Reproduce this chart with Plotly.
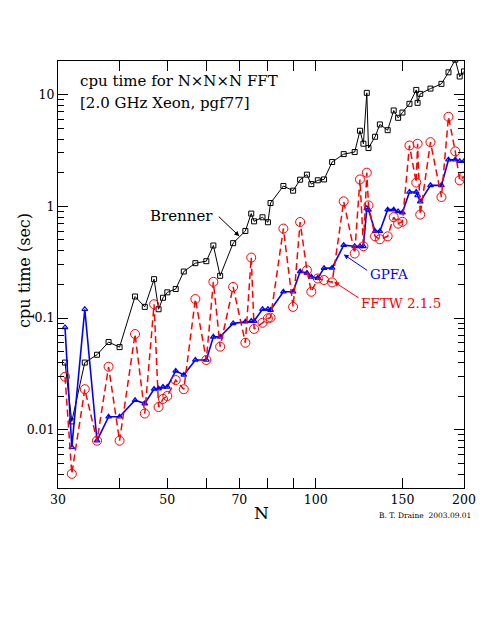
import math
import plotly.graph_objects as go

# ---- data ----
N = [31, 32, 34, 36, 38, 40, 43, 45, 47, 48, 49, 50, 52, 54, 57, 60, 62, 64, 68, 72,
     74, 75, 78, 80, 81, 86, 90, 93, 96, 98, 101, 104, 108, 114, 120, 123, 125, 127, 128, 132,
     135, 140, 144, 147, 150, 155, 160, 161, 163, 171, 180, 186, 192, 196, 200]

brenner = [0.040, 0.0119, 0.040, 0.047, 0.061, 0.055, 0.156, 0.126, 0.223, 0.120,
           0.152, 0.170, 0.182, 0.261, 0.310, 0.323, 0.446, 0.239, 0.468, 0.602,
           0.861, 0.734, 0.798, 0.72, 1.07, 1.52, 1.38, 1.73, 1.92, 1.58,
           1.71, 1.74, 2.49, 2.93, 3.06, 4.74, 3.63, 10.35, 3.32, 4.19,
           5.40, 4.80, 7.2, 6.19, 6.9, 8.26, 11.0, 8.43, 10.14, 11.3,
           12.46, 15.8, 20.5, 14.5, 16.1]

gpfa = [0.0826, 0.0070, 0.120, 0.0080, 0.0131, 0.0131, 0.0184, 0.0172, 0.0232, 0.0234,
        0.0242, 0.0242, 0.0337, 0.031, 0.0422, 0.0422, 0.068, 0.068, 0.0897, 0.0927,
        0.094, 0.094, 0.120, 0.120, 0.118, 0.172, 0.172, 0.261, 0.253, 0.234,
        0.228, 0.280, 0.281, 0.449, 0.439, 0.439, 0.439, 0.96, 0.93, 0.598,
        0.598, 0.934, 0.934, 0.90, 0.879, 1.343, 1.343, 1.25, 1.10, 1.54,
        1.54, 2.61, 2.61, 2.53, 2.53]

fftw = [0.0299, 0.00404, 0.0231, 0.0080, 0.0367, 0.0080, 0.072, 0.014, 0.133, 0.016,
        0.0189, 0.0201, 0.0279, 0.0231, 0.148, 0.0422, 0.211, 0.0555, 0.190, 0.0602,
        0.348, 0.080, 0.0908, 0.0993, 0.101, 0.632, 0.126, 0.724, 0.268, 0.172,
        0.226, 0.219, 0.2085, 1.108, 0.378, 1.74, 0.439, 2.0, 1.02, 0.539,
        0.507, 0.539, 0.80, 0.70, 0.727, 3.50, 1.63, 3.63, 0.843, 3.75,
        1.21, 6.32, 3.10, 1.71, 1.85]

x_tickvals = [30, 40, 50, 60, 70, 80, 90, 100, 150, 200]
x_ticktext = ["30", "", "50", "", "70", "", "", "100", "150", "200"]
y_tickvals = [0.01, 0.1, 1, 10]
y_ticktext = ["0.01", "0.1", "1", "10"]
y_minor = [k * 10.0 ** d for d in range(-3, 2) for k in range(2, 10)]

SERIF = "DejaVu Serif"

fig = go.Figure()
fig.add_trace(go.Scatter(
    x=N, y=brenner, mode="lines+markers", name="Brenner",
    line=dict(color="black", width=1),
    marker=dict(symbol="square-open", size=5, color="black", line=dict(width=1, color="black"))))
fig.add_trace(go.Scatter(
    x=N, y=gpfa, mode="lines+markers", name="GPFA",
    line=dict(color="blue", width=1.6),
    marker=dict(symbol="triangle-up-open", size=5, color="blue", line=dict(width=1.2, color="blue"))))
fig.add_trace(go.Scatter(
    x=N, y=fftw, mode="lines+markers", name="FFTW 2.1.5",
    line=dict(color="red", width=1.5, dash="7px,4px"),
    marker=dict(symbol="circle-open", size=9, color="red", line=dict(width=1, color="red"))))

axis_common = dict(
    type="log", showgrid=False, zeroline=False, showline=True, linecolor="black", linewidth=1,
    mirror="ticks", ticks="inside", ticklen=10, tickwidth=1, tickcolor="black",
    tickfont=dict(family=SERIF, size=12.5, color="black"),
)

fig.update_xaxes(range=[math.log10(30), math.log10(200)], tickmode="array",
                 tickvals=x_tickvals, ticktext=x_ticktext, **axis_common)
fig.update_yaxes(range=[-2.52, 1.30], tickmode="array", tickvals=y_tickvals,
                 ticktext=y_ticktext,
                 minor=dict(tickmode="array", tickvals=y_minor, ticks="inside",
                            ticklen=6, tickwidth=1, tickcolor="black", showgrid=False),
                 **axis_common)

ann = []
ann.append(dict(xref="paper", yref="paper", x=0.049, y=0.9525, xanchor="left", yanchor="middle",
                text="cpu time for N×N×N FFT", showarrow=False,
                font=dict(family=SERIF, size=15, color="black")))
ann.append(dict(xref="paper", yref="paper", x=0.049, y=0.901, xanchor="left", yanchor="middle",
                text="[2.0 GHz Xeon, pgf77]", showarrow=False,
                font=dict(family=SERIF, size=15, color="black")))
# labels
ann.append(dict(xref="paper", yref="paper", x=0.3037, y=0.6377, xanchor="center", yanchor="middle",
                text="Brenner", showarrow=False, font=dict(family=SERIF, size=15, color="black")))
ann.append(dict(xref="paper", yref="paper", x=0.8148, y=0.5008, xanchor="center", yanchor="middle",
                text="GPFA", showarrow=False, font=dict(family=SERIF, size=13.5, color="blue")))
ann.append(dict(xref="paper", yref="paper", x=0.8443, y=0.4337, xanchor="center", yanchor="middle",
                text="FFTW 2.1.5", showarrow=False, font=dict(family=SERIF, size=13.5, color="red")))
# arrows (tip in data coords, log axes -> log10 values)
ann.append(dict(x=math.log10(70), y=math.log10(0.54), xref="x", yref="y", text="",
                showarrow=True, arrowhead=2, arrowsize=1, arrowwidth=1, arrowcolor="black",
                ax=-22, ay=-21, standoff=0))
ann.append(dict(x=math.log10(114), y=math.log10(0.371), xref="x", yref="y", text="",
                showarrow=True, arrowhead=2, arrowsize=1, arrowwidth=1, arrowcolor="blue",
                ax=25, ay=17, standoff=0))
ann.append(dict(x=math.log10(109), y=math.log10(0.211), xref="x", yref="y", text="",
                showarrow=True, arrowhead=2, arrowsize=1, arrowwidth=1, arrowcolor="red",
                ax=26, ay=17, standoff=0))
# axis titles and credit
ann.append(dict(xref="paper", yref="paper", x=-0.082, y=0.51, xanchor="center", yanchor="middle",
                text="cpu time (sec)", textangle=-90, showarrow=False,
                font=dict(family=SERIF, size=16, color="black")))
ann.append(dict(xref="paper", yref="paper", x=0.5, y=-0.0585, xanchor="center", yanchor="middle",
                text="N", showarrow=False, font=dict(family=SERIF, size=17, color="black")))
ann.append(dict(xref="paper", yref="paper", x=1.022, y=-0.0655, xanchor="right", yanchor="middle",
                text="B. T. Draine  2003.09.01", showarrow=False,
                font=dict(family=SERIF, size=7.5, color="black")))

fig.update_layout(
    width=491, height=635,
    margin=dict(l=50, r=35, t=53, b=155, pad=0),
    paper_bgcolor="white", plot_bgcolor="white",
    showlegend=False,
    annotations=ann,
)

fig.write_html("out.html")
